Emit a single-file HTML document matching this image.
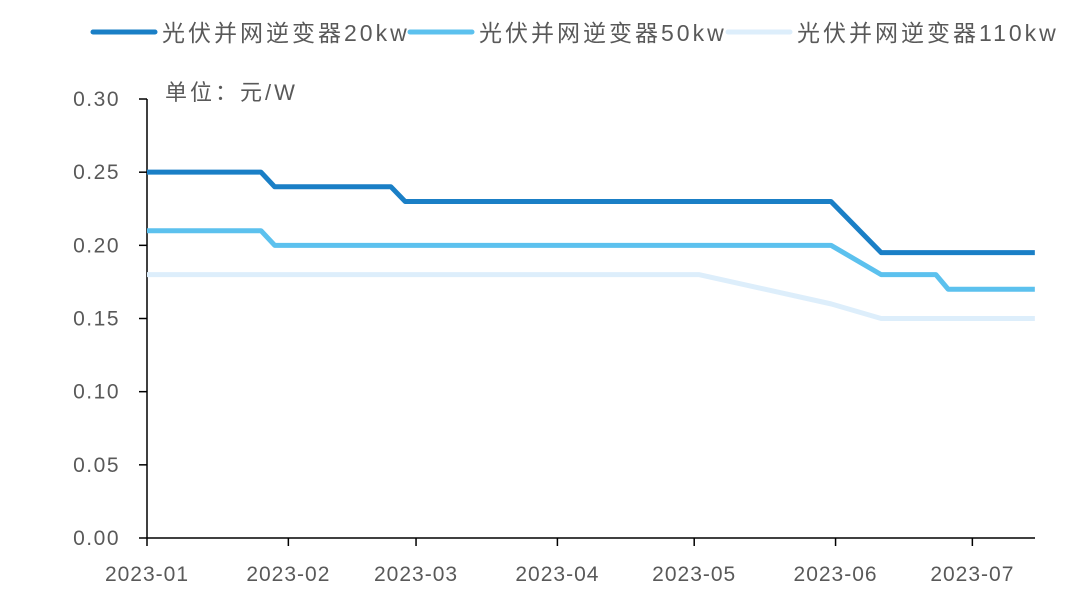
<!DOCTYPE html>
<html><head><meta charset="utf-8"><style>
body{margin:0;background:#fff;}
svg text{font-family:"Liberation Sans","Noto Sans CJK SC",sans-serif;fill:#595959;}
</style></head><body>
<svg id="chart" width="1080" height="599" xmlns="http://www.w3.org/2000/svg"></svg>
<script>
const yTicks=[0,0.05,0.10,0.15,0.20,0.25,0.30];
const xTickLabels=["2023-01","2023-02","2023-03","2023-04","2023-05","2023-06","2023-07"];
const xTickDays=[0,31,59,90,120,151,181];
const seriesNames=["光伏并网逆变器20kw","光伏并网逆变器50kw","光伏并网逆变器110kw"];
const days20=[0,25,28,53.5,56.6,150,161,194.7];
const vals20=[0.25,0.25,0.24,0.24,0.23,0.23,0.195,0.195];
const days50=[0,25,28,150,161,173,175.7,194.7];
const vals50=[0.21,0.21,0.20,0.20,0.18,0.18,0.17,0.17];
const days110=[0,121,150,161,194.7];
const vals110=[0.18,0.18,0.16,0.15,0.15];
const colors=["#1a7fc6","#5cc1ee","#ddeefb"];
const svg=document.getElementById('chart');
const NS="http://www.w3.org/2000/svg";
const x=d=>147+d*4.56;
const y=v=>538-v*1463.3;
function mk(t,a,p){const e=document.createElementNS(NS,t);for(const k in a)e.setAttribute(k,a[k]);(p||svg).appendChild(e);return e;}
let ax=mk('line',{x1:147,y1:99,x2:147,y2:538,stroke:'#000','stroke-width':1.5});


let ax2=mk('line',{x1:147,y1:538,x2:1035,y2:538,stroke:'#000','stroke-width':1.5});


yTicks.forEach(v=>{
  const tk=mk('line',{x1:139,y1:y(v),x2:147,y2:y(v),stroke:'#000','stroke-width':1.5});
  
  
  const t=mk('text',{x:120,y:y(v)+7,'text-anchor':'end','font-size':21,'letter-spacing':1.5});
  t.textContent=v.toFixed(2);
  
  
});
xTickDays.forEach((d,i)=>{
  const tk=mk('line',{x1:x(d),y1:538,x2:x(d),y2:546,stroke:'#000','stroke-width':1.5});
  
  
  const t=mk('text',{x:x(d),y:581,'text-anchor':'middle','font-size':21,'letter-spacing':1});
  t.textContent=xTickLabels[i];
  
  
});
const unit=mk('text',{x:165,y:100,'font-size':22,'letter-spacing':3});
unit.textContent="单位：元/W";


const all=[[days110,vals110],[days50,vals50],[days20,vals20]];
[2,1,0].forEach((si,k)=>{
  const [ds,vs]=all[k];
  const p=mk('polyline',{points:ds.map((d,i)=>x(d)+','+y(vs[i])).join(' '),fill:'none',stroke:colors[si],'stroke-width':5,'stroke-linejoin':'round'});
  
  
});
const legX=[93,410,728];
seriesNames.forEach((n,i)=>{
  const g=mk('g',{});
  
  
  mk('line',{x1:legX[i],y1:32,x2:legX[i]+62,y2:32,stroke:colors[i],'stroke-width':5,'stroke-linecap':'round'},g);
  const t=mk('text',{x:legX[i]+69,y:41,'font-size':23,'letter-spacing':3},g);
  t.textContent=n;
});
</script>
</body></html>
